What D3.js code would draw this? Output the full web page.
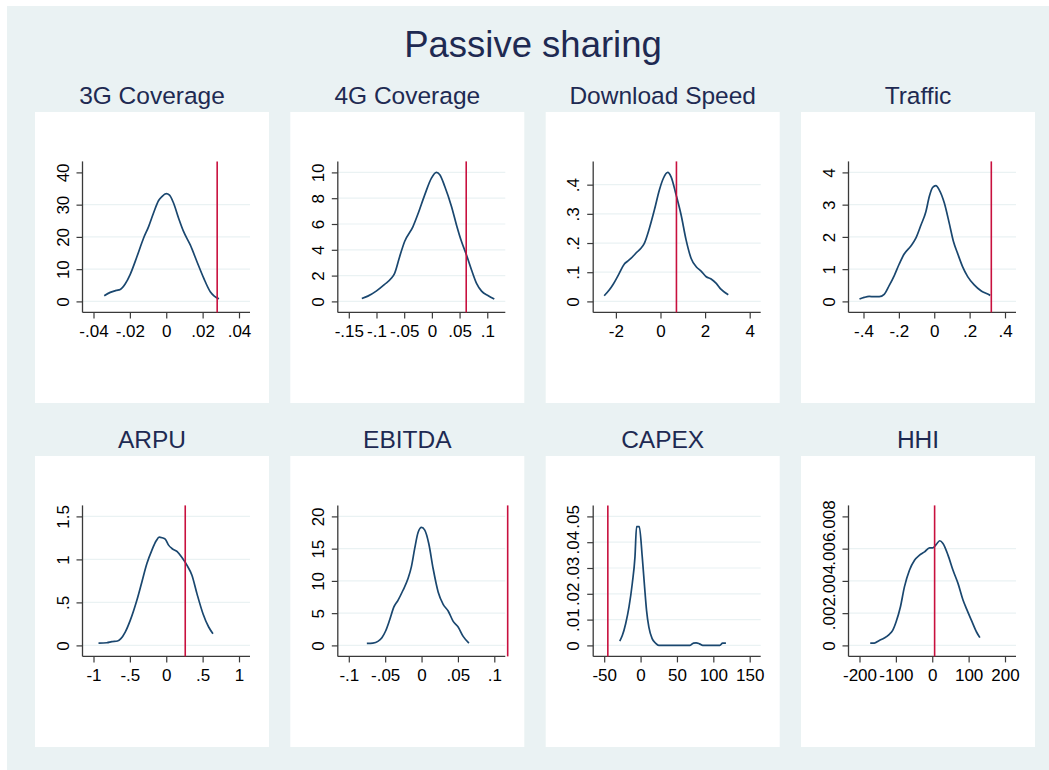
<!DOCTYPE html>
<html>
<head>
<meta charset="utf-8">
<script src="https://cdn.jsdelivr.net/npm/d3@7"></script>
<style>
  html, body { margin: 0; padding: 0; background: #fff; }
  svg { display: block; font-family: "Liberation Sans", Arial, Helvetica, sans-serif; }
</style>
</head>
<body>
<div id="chart"></div>
<script>
// kernel density curves as [x, density]
const cov3G = [[-0.0341,1.76],[-0.0308,2.8],[-0.0275,3.4],[-0.0253,3.7],[-0.0226,5.4],[-0.0198,8.4],[-0.0161,13.9],[-0.0125,19.6],[-0.0097,23.2],[-0.0070,27.4],[-0.0042,31.3],[-0.0024,32.5],[0,33.4],[0.0018,32.95],[0.004,30.5],[0.0068,25.8],[0.0095,21.7],[0.0132,17.5],[0.0169,12.3],[0.0206,7.2],[0.0242,3.0],[0.0264,1.66],[0.029,0.83]];
const cov4G = [[-0.1265,0.23],[-0.1156,0.41],[-0.1005,0.80],[-0.0854,1.32],[-0.0733,1.79],[-0.0673,2.18],[-0.0582,3.47],[-0.0492,4.64],[-0.0341,5.80],[-0.025,6.79],[-0.0129,8.26],[-0.0008,9.56],[0.0082,10.0],[0.0143,9.82],[0.0233,8.91],[0.0354,7.36],[0.0444,5.93],[0.0535,4.64],[0.0625,3.60],[0.0716,2.44],[0.0806,1.40],[0.0897,0.80],[0.1018,0.44],[0.1127,0.18]];
const speed = [[-2.524,0.0194],[-2.30,0.039],[-2.12,0.059],[-1.85,0.096],[-1.62,0.128],[-1.47,0.138],[-1.25,0.153],[-1.07,0.168],[-0.875,0.182],[-0.725,0.199],[-0.50,0.250],[-0.275,0.313],[-0.05,0.382],[0.13,0.422],[0.325,0.442],[0.475,0.427],[0.70,0.365],[0.925,0.296],[1.15,0.210],[1.375,0.147],[1.60,0.119],[1.82,0.104],[2.05,0.0846],[2.27,0.0766],[2.50,0.0617],[2.72,0.041],[3.04,0.0229]];
const traffic = [[-0.4226,0.073],[-0.396,0.124],[-0.368,0.155],[-0.340,0.145],[-0.311,0.145],[-0.283,0.218],[-0.255,0.487],[-0.226,0.80],[-0.198,1.16],[-0.170,1.47],[-0.132,1.72],[-0.104,1.96],[-0.075,2.37],[-0.047,2.79],[-0.028,3.25],[-0.0094,3.53],[0.0094,3.59],[0.028,3.46],[0.057,3.05],[0.085,2.42],[0.109,1.85],[0.132,1.49],[0.160,1.08],[0.189,0.77],[0.226,0.51],[0.264,0.33],[0.292,0.25],[0.317,0.187]];
const arpu = [[-0.931,0.027],[-0.817,0.031],[-0.748,0.043],[-0.670,0.051],[-0.624,0.078],[-0.564,0.155],[-0.495,0.291],[-0.404,0.525],[-0.335,0.738],[-0.266,0.952],[-0.197,1.108],[-0.138,1.216],[-0.096,1.259],[-0.055,1.251],[-0.014,1.236],[0.032,1.166],[0.078,1.127],[0.147,1.092],[0.216,1.022],[0.284,0.933],[0.353,0.816],[0.422,0.602],[0.505,0.369],[0.583,0.214],[0.642,0.136]];
const ebitda = [[-0.0752,0.31],[-0.0669,0.36],[-0.060,0.62],[-0.0545,1.19],[-0.0494,2.23],[-0.044,3.89],[-0.038,5.96],[-0.0324,6.99],[-0.0255,8.55],[-0.0186,10.36],[-0.014,12.18],[-0.0094,15.03],[-0.0048,17.51],[0,18.29],[0.0044,17.88],[0.0099,15.80],[0.0159,11.92],[0.0228,8.29],[0.0297,6.37],[0.0366,5.34],[0.0435,3.73],[0.0503,2.85],[0.0572,1.40],[0.0651,0.36]];
const capex = [[-28.6,0.00168],[-25,0.0039],[-20.5,0.0084],[-15.9,0.0149],[-11.4,0.024],[-7.7,0.0343],[-5.5,0.046],[-1.8,0.046],[2.3,0.0343],[5.5,0.0227],[8.2,0.0136],[11.4,0.0071],[15.9,0.0026],[20.5,0.0009],[25,0],[45.5,0],[68,0],[72.7,0.0009],[76.4,0.001],[81,0.0006],[85.5,0],[109,0],[112.7,0.0009],[117.3,0.0009]];
const hhi = [[-170.5,0.000145],[-159.4,0.000145],[-145.6,0.00031],[-131.8,0.000456],[-118,0.000684],[-108.8,0.00093],[-99.5,0.00145],[-87.6,0.00238],[-76.5,0.00363],[-62.7,0.00466],[-48.8,0.00528],[-35,0.0056],[-21.2,0.0058],[-7.4,0.00605],[1.8,0.00605],[11.1,0.00626],[20.3,0.00649],[29.5,0.00632],[43.3,0.0056],[57.1,0.00466],[71,0.00383],[84.8,0.0028],[94,0.00228],[107.8,0.00155],[121.7,0.00083],[130.9,0.00048]];

const mainTitle = 'Passive sharing';
const titles = ['3G Coverage', '4G Coverage', 'Download Speed', 'Traffic', 'ARPU', 'EBITDA', 'CAPEX', 'HHI'];
const curves = [cov3G, cov4G, speed, traffic, arpu, ebitda, capex, hhi];
const xLines = [0.028, 0.062, 0.715, 0.3226, 0.261, 0.1184, -45, 6.5];

const xTicks = [
  [-0.04, -0.02, 0, 0.02, 0.04],
  [-0.15, -0.1, -0.05, 0, 0.05, 0.1],
  [-2, 0, 2, 4],
  [-0.4, -0.2, 0, 0.2, 0.4],
  [-1, -0.5, 0, 0.5, 1],
  [-0.1, -0.05, 0, 0.05, 0.1],
  [-50, 0, 50, 100, 150],
  [-200, -100, 0, 100, 200]
];
const xTickLabels = [
  ['-.04', '-.02', '0', '.02', '.04'],
  ['-.15', '-.1', '-.05', '0', '.05', '.1'],
  ['-2', '0', '2', '4'],
  ['-.4', '-.2', '0', '.2', '.4'],
  ['-1', '-.5', '0', '.5', '1'],
  ['-.1', '-.05', '0', '.05', '.1'],
  ['-50', '0', '50', '100', '150'],
  ['-200', '-100', '0', '100', '200']
];
const yTicks = [
  [0, 10, 20, 30, 40],
  [0, 2, 4, 6, 8, 10],
  [0, 0.1, 0.2, 0.3, 0.4],
  [0, 1, 2, 3, 4],
  [0, 0.5, 1, 1.5],
  [0, 5, 10, 15, 20],
  [0, 0.01, 0.02, 0.03, 0.04, 0.05],
  [0, 0.002, 0.004, 0.006, 0.008]
];
const yTickLabels = [
  ['0', '10', '20', '30', '40'],
  ['0', '2', '4', '6', '8', '10'],
  ['0', '.1', '.2', '.3', '.4'],
  ['0', '1', '2', '3', '4'],
  ['0', '.5', '1', '1.5'],
  ['0', '5', '10', '15', '20'],
  ['0', '.01', '.02', '.03', '.04', '.05'],
  ['0', '.002', '.004', '.006', '.008']
];
// panels where Stata left out the top gridline
const noTopGrid = ['3G Coverage', 'HHI'];

const W = 1049, H = 770;
const svg = d3.select('#chart').append('svg').attr('width', W).attr('height', H);

svg.append('rect').attr('x', 7).attr('y', 6).attr('width', W - 7).attr('height', H - 6).attr('fill', '#eaf2f3');

svg.append('text')
  .attr('x', 533).attr('y', 57)
  .attr('text-anchor', 'middle')
  .attr('font-size', 36.5)
  .attr('fill', '#1e2a52')
  .text(mainTitle);

const colX = [35, 290.3, 545.7, 801];
const rowY = [112, 456];
const panelW = 234, panelH = 291;
const plot = { left: 47.5, top: 49.4, width: 167.5, height: 151 };
const pad = 11;
const axisColor = '#3a3a3a';
const tickFont = 17;

titles.forEach((title, i) => {
  const px = colX[i % 4], py = rowY[Math.floor(i / 4)];
  const data = curves[i];

  svg.append('text')
    .attr('x', px + panelW / 2).attr('y', py - 8)
    .attr('text-anchor', 'middle')
    .attr('font-size', 24.5)
    .attr('fill', '#1e2a52')
    .text(title);

  svg.append('rect').attr('x', px).attr('y', py).attr('width', panelW).attr('height', panelH).attr('fill', '#fff');

  const g = svg.append('g').attr('transform', `translate(${px + plot.left},${py + plot.top})`);

  const xs = xTicks[i], ys = yTicks[i];
  const x = d3.scaleLinear()
    .domain([Math.min(xs[0], d3.min(data, d => d[0])), Math.max(xs[xs.length - 1], d3.max(data, d => d[0]))])
    .range([pad, plot.width - pad]);
  const y = d3.scaleLinear()
    .domain([Math.min(ys[0], d3.min(data, d => d[1])), Math.max(ys[ys.length - 1], d3.max(data, d => d[1]))])
    .range([plot.height - pad, pad]);

  // gridlines
  const grid = noTopGrid.includes(title) ? ys.slice(0, -1) : ys;
  g.selectAll('.grid')
    .data(grid)
    .enter()
    .append('line')
    .attr('x1', 0).attr('x2', plot.width)
    .attr('y1', d => y(d)).attr('y2', d => y(d))
    .attr('stroke', '#eaf2f3')
    .attr('stroke-width', 1.2);

  // axes
  const xAxis = g.append('g')
    .attr('transform', `translate(0,${plot.height})`)
    .call(d3.axisBottom(x).tickValues(xs).tickSize(6).tickSizeOuter(0)
      .tickFormat((d, j) => xTickLabels[i][j]));
  xAxis.select('.domain').remove();
  xAxis.selectAll('text').attr('y', 24.5).attr('dy', 0).attr('font-size', tickFont).attr('fill', '#000');

  const yAxis = g.append('g')
    .call(d3.axisLeft(y).tickValues(ys).tickSize(6).tickSizeOuter(0)
      .tickFormat((d, j) => yTickLabels[i][j]));
  yAxis.select('.domain').remove();
  yAxis.selectAll('text')
    .attr('x', 0).attr('dy', 0)
    .attr('transform', 'translate(-14,0) rotate(-90)')
    .attr('text-anchor', 'middle')
    .attr('font-size', tickFont)
    .attr('fill', '#000');

  g.selectAll('.tick line').attr('stroke', axisColor).attr('stroke-width', 1.2);

  g.append('line')
    .attr('x1', 0).attr('x2', plot.width)
    .attr('y1', plot.height).attr('y2', plot.height)
    .attr('stroke', axisColor).attr('stroke-width', 1.3);
  g.append('line')
    .attr('x1', 0).attr('x2', 0)
    .attr('y1', 0).attr('y2', plot.height)
    .attr('stroke', axisColor).attr('stroke-width', 1.3);

  // density curve
  const line = d3.line()
    .x(d => x(d[0]))
    .y(d => y(d[1]))
    .curve(d3.curveMonotoneX);

  g.append('path')
    .datum(data)
    .attr('fill', 'none')
    .attr('stroke', '#1a476f')
    .attr('stroke-width', 1.7)
    .attr('d', line);

  // actual value line
  g.append('line')
    .attr('x1', x(xLines[i])).attr('x2', x(xLines[i]))
    .attr('y1', 0).attr('y2', plot.height)
    .attr('stroke', '#c8103e')
    .attr('stroke-width', 1.6);
});
</script>
</body>
</html>
